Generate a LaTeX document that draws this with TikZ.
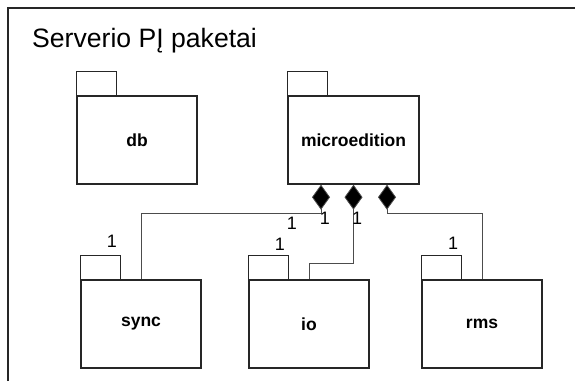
\documentclass[tikz,border=0pt]{standalone}
\usepackage{fontspec}
\setmainfont{Liberation Sans}
\usetikzlibrary{arrows.meta,calc}

\begin{document}
\begin{tikzpicture}[x=1pt,y=-1pt]
            \tikzstyle{package}=[draw=black!85,line width=1.4pt,minimum height=88pt,inner sep=0pt,font=\fontsize{17.5}{20}\selectfont\bfseries]
            \tikzstyle{tab}=[draw=black!85,line width=1.4pt]
            \tikzstyle{part}=[draw=black!70,line width=0.8pt,{Diamond[length=25pt,width=18pt,fill=black]}-]
            \tikzstyle{mult}=[inner sep=0pt,font=\fontsize{18}{20}\selectfont]
    \useasboundingbox (0,0) rectangle (575,381);
    \draw[line width=2pt,draw=black!85] (8,381) -- (8,8) -- (575,8);
    \node[anchor=base west,inner sep=0pt,font=\fontsize{26.6}{30}\selectfont] (title) at (32,47) {Serverio PĮ paketai};

    \node[package,minimum width=120pt] (db) at (137,140) {db};
    \node[package,minimum width=131pt] (micro) at (353.5,140) {microedition};
    \node[package,minimum width=120pt] (sync) at (141,324) {sync};
    \node[package,minimum width=120pt] (io) at (309,324) {io};
    \node[package,minimum width=120pt] (rms) at (482,324) {rms};
    \foreach \p in {db,micro,sync,io,rms}
      \draw[tab] (\p.north west) rectangle ++(40,-24);

    \coordinate (d1) at ($(micro.south)+(-32.5,0)$);
    \coordinate (d3) at ($(micro.south)+(33.5,0)$);
    \draw[part] (d1) -- ++(0,29) -| (sync.north);
    \draw[part] (micro.south) -- ++(0,79) -| (io.north);
    \draw[part] (d3) -- ++(0,29) -| (rms.north);

    \node[mult] (m1) at (325,218) {1};
    \node[mult] (m2) at (292,223) {1};
    \node[mult] (m3) at (357,218) {1};
    \node[mult] (m4) at (112,241) {1};
    \node[mult] (m5) at (280,244) {1};
    \node[mult] (m6) at (453,243) {1};
\end{tikzpicture}
\end{document}
